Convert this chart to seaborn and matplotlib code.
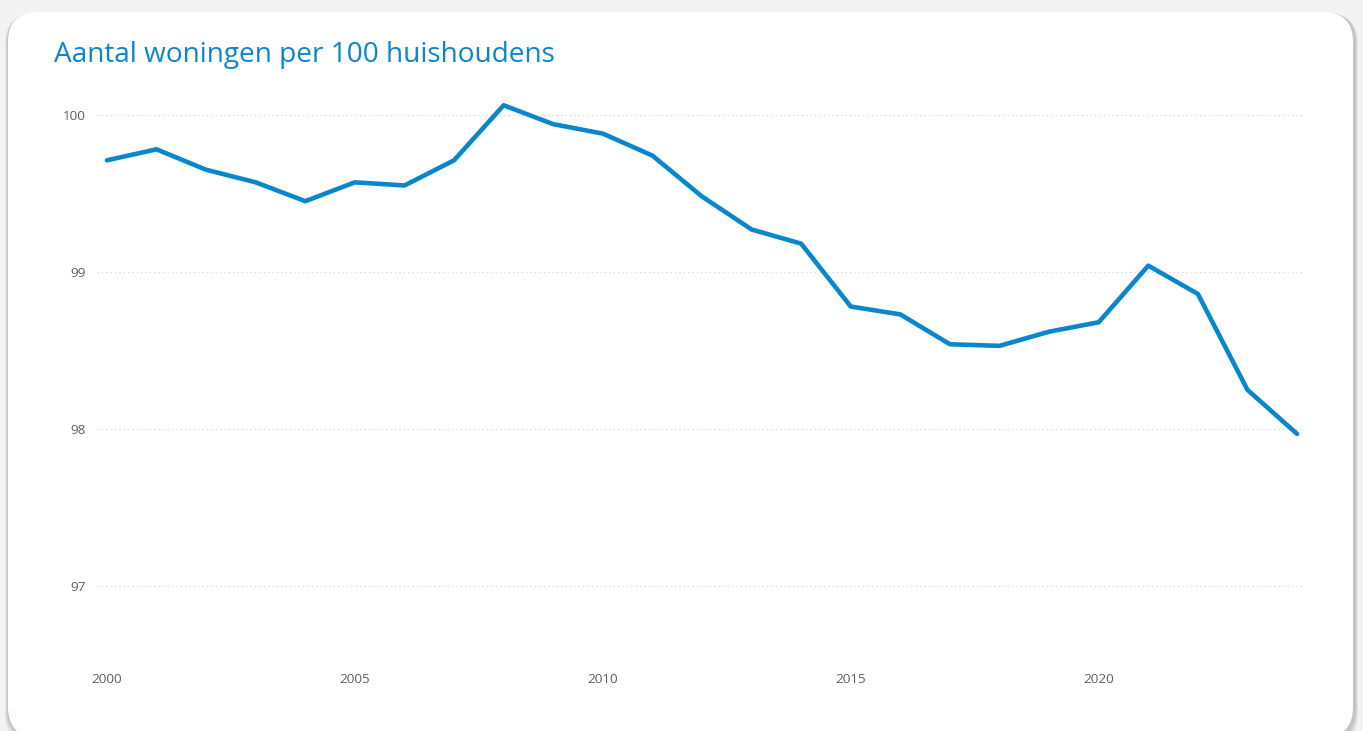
import matplotlib
matplotlib.use("Agg")
import matplotlib.pyplot as plt
from matplotlib.patches import FancyBboxPatch
import seaborn as sns
import pandas as pd

years = list(range(2000, 2025))
values = [99.71, 99.78, 99.65, 99.57, 99.45, 99.57, 99.55, 99.71, 100.06, 99.94,
          99.88, 99.74, 99.48, 99.27, 99.18, 98.78, 98.73, 98.54, 98.53, 98.62,
          98.68, 99.04, 98.86, 98.25, 97.97]
y_ticks = [97, 98, 99, 100]
x_ticks = [2000, 2005, 2010, 2015, 2020]
title = "Aantal woningen per 100 huishoudens"

sns.set_theme(style="white")
plt.rcParams['font.family'] = ['Open Sans', 'DejaVu Sans']

W, H = 1363, 731
fig = plt.figure(figsize=(W / 100, H / 100), dpi=100)
fig.patch.set_facecolor("#f3f3f3")

# background axes in pixel coordinates (y downwards) for the card
bg = fig.add_axes([0, 0, 1, 1], zorder=0)
bg.set_xlim(0, W)
bg.set_ylim(H, 0)
bg.axis("off")
for off, col in [(6, "#e4e4e4"), (4, "#d6d6d6"), (2, "#c4c4c4")]:
    bg.add_patch(FancyBboxPatch((8 - off / 2, 12 + off / 3), 1347 + off, 726 + off / 2,
                                boxstyle="round,pad=0,rounding_size=30",
                                facecolor=col, edgecolor="none"))
bg.add_patch(FancyBboxPatch((8, 12), 1345, 725,
                            boxstyle="round,pad=0,rounding_size=30",
                            facecolor="white", edgecolor="none"))

left, right = 97 / W, 1305 / W
bottom, top = (H - 665) / H, (H - 99) / H
ax = fig.add_axes([left, bottom, right - left, top - bottom], zorder=1)
ax.set_facecolor("none")

df = pd.DataFrame({"jaar": years, "waarde": values})
sns.lineplot(data=df, x="jaar", y="waarde", ax=ax, color="#0a86cc", linewidth=3.3)

ax.set_xlim(1999.8, 2024.16)
ax.set_ylim(96.5, 100.1)
ax.set_yticks(y_ticks)
ax.set_xticks(x_ticks)
ax.set_yticklabels([str(t) for t in y_ticks])
ax.set_xticklabels([str(t) for t in x_ticks])
ax.grid(axis="y", color="#c9d6df", linestyle=(0, (1, 2.5)), linewidth=0.9)
ax.grid(axis="x", visible=False)
for s in ax.spines.values():
    s.set_visible(False)
ax.tick_params(axis="both", length=0, colors="#5f5f5f", labelsize=9.7)
ax.tick_params(axis="y", pad=8)
ax.tick_params(axis="x", pad=6)
ax.set_xlabel("")
ax.set_ylabel("")

fig.text(54 / W, (H - 55) / H, title, color="#0a86cc", fontsize=20.2,
         va="center", ha="left", family=["Open Sans", "DejaVu Sans"], zorder=2)

fig.savefig("out.png", dpi=100, facecolor=fig.get_facecolor())
